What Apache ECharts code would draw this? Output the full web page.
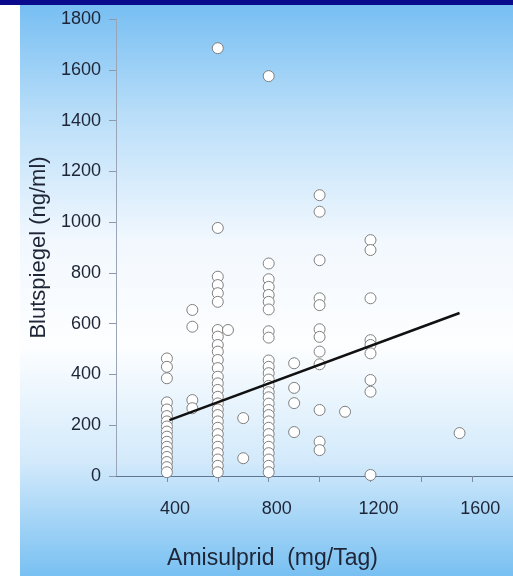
<!DOCTYPE html>
<html>
<head>
<meta charset="utf-8">
<script src="https://cdn.jsdelivr.net/npm/echarts@6/dist/echarts.min.js"></script>
<style>
  html, body { margin: 0; padding: 0; background: #fff; }
  #chart { width: 513px; height: 576px; }
</style>
</head>
<body>
<div id="chart"></div>
<script>
// Blutspiegel (ng/ml) je Tagesdosis (mg)
const lvl400 = [463, 430, 385, 290, 262, 236, 215, 195, 175, 155, 135, 115, 95, 75, 55, 35, 15];
const lvl500 = [654, 588, 299, 267];
const lvl600 = [1685, 977, 785, 752, 720, 686, 575, 549, 516, 490, 457, 425, 391, 365, 339, 312, 286, 262, 240, 215, 190, 165, 140, 115, 90, 65, 40, 15];
const lvl640 = [575];
const lvl700 = [228, 70];
const lvl800 = [1575, 837, 775, 745, 713, 686, 656, 570, 545, 455, 430, 405, 380, 355, 330, 310, 285, 260, 240, 215, 190, 165, 140, 115, 90, 65, 40, 15];
const lvl900 = [444, 347, 287, 173];
const lvl1000 = [1106, 1041, 850, 700, 673, 578, 548, 490, 440, 260, 135, 102];
const lvl1100 = [253];
const lvl1200 = [929, 890, 700, 535, 516, 483, 378, 332, 4];
const lvl1550 = [169];

// Regressionsgerade: Anfang und Ende
const regDose = [410, 1550];
const regLevel = [220, 642];

const xLabels = [400, 800, 1200, 1600];

const groups = [
  [400, lvl400], [500, lvl500], [600, lvl600], [640, lvl640], [700, lvl700],
  [800, lvl800], [900, lvl900], [1000, lvl1000], [1100, lvl1100],
  [1200, lvl1200], [1550, lvl1550]
];
const points = [];
groups.forEach(([dose, arr]) => {
  arr.forEach((v) => points.push([dose, v]));
});
const regLine = regDose.map((d, i) => [d, regLevel[i]]);

const font = "'Liberation Sans', Arial, sans-serif";
const textColor = '#1e2536';

const chart = echarts.init(document.getElementById('chart'));
chart.setOption({
  animation: false,
  graphic: [
    {
      type: 'rect', z: -10, silent: true,
      shape: { x: 20, y: 0, width: 493, height: 576 },
      style: {
        fill: new echarts.graphic.LinearGradient(0, 0, 0, 1, [
          { offset: 0, color: '#74bdf2' },
          { offset: 0.2, color: '#b9def9' },
          { offset: 0.42, color: '#f2f8fe' },
          { offset: 0.6, color: '#fdfeff' },
          { offset: 0.8, color: '#d3eafb' },
          { offset: 1, color: '#78c0f2' }
        ])
      }
    },
    {
      type: 'rect', z: -9, silent: true,
      shape: { x: 0, y: 0, width: 513, height: 5 },
      style: { fill: '#0a0a8c' }
    }
  ],
  grid: { left: 116, right: 0, top: 19, bottom: 100, containLabel: false },
  xAxis: {
    type: 'value',
    min: 200,
    max: 1760,
    interval: 200,
    name: 'Amisulprid  (mg/Tag)',
    nameLocation: 'middle',
    nameGap: 71,
    nameTextStyle: { fontFamily: font, fontSize: 23, color: textColor, padding: [0, 84, 0, 0] },
    axisLine: { show: true, onZero: false, lineStyle: { color: '#5f7593', width: 1 } },
    axisTick: { show: true, inside: false, length: 6, lineStyle: { color: '#7d8ca3' } },
    splitLine: { show: false },
    axisLabel: {
      margin: 24,
      fontFamily: font,
      fontSize: 18,
      color: textColor,
      padding: [0, 0, 0, 16],
      showMinLabel: false,
      showMaxLabel: false,
      formatter: (v) => (xLabels.includes(v) ? String(v) : '')
    }
  },
  yAxis: {
    type: 'value',
    min: 0,
    max: 1800,
    interval: 200,
    name: 'Blutspiegel (ng/ml)',
    nameLocation: 'middle',
    nameGap: 55,
    nameTextStyle: { fontFamily: font, fontSize: 22, color: textColor },
    axisLine: { show: true, lineStyle: { color: '#9aa6b8', width: 1 } },
    axisTick: { show: true, inside: false, length: 7, lineStyle: { color: '#8c99ad' } },
    splitLine: { show: false },
    axisLabel: { margin: 15, fontFamily: font, fontSize: 18, color: textColor, formatter: (v) => String(v) }
  },
  series: [
    {
      type: 'scatter',
      data: points,
      symbol: 'circle',
      symbolSize: 11,
      itemStyle: { color: '#ffffff', borderColor: '#808080', borderWidth: 1, opacity: 1 },
      z: 2
    },
    {
      type: 'line',
      data: regLine,
      symbol: 'none',
      lineStyle: { color: '#111111', width: 2.6 },
      z: 3
    }
  ]
});
</script>
</body>
</html>
